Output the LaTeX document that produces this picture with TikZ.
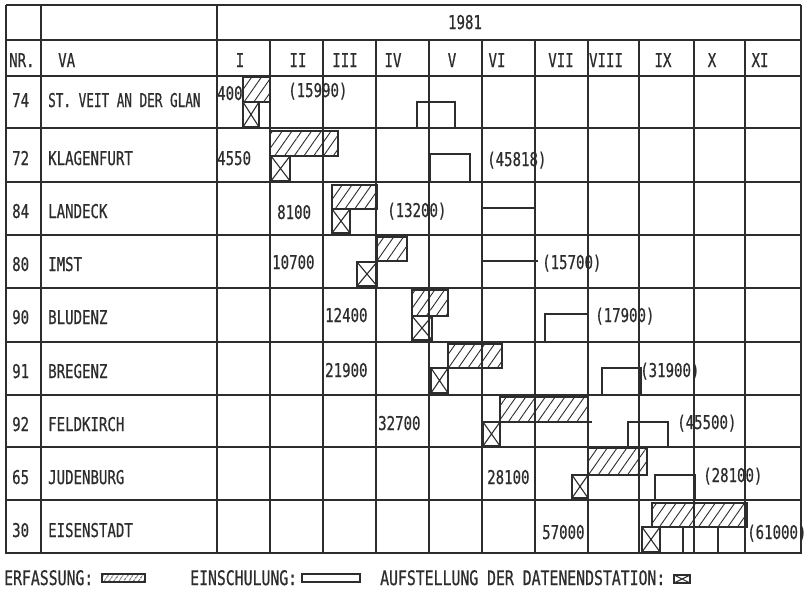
\documentclass[tikz,border=0pt]{standalone}
\usepackage{fontspec}
\setmainfont{DejaVu Sans Mono}[FakeStretch=0.74,FakeBold=0.6]
\usetikzlibrary{patterns.meta}
\definecolor{ink}{RGB}{45,45,45}
\newcommand\xcrossbox[4]{%
  \draw[bar] (#1,#2) rectangle (#3,#4);
  \draw[draw=ink,line width=1.1pt] (#1,#2)--(#3,#4) (#1,#4)--(#3,#2);}
\begin{document}
\begin{tikzpicture}[x=1pt,y=-1pt,
  gridline/.style={draw=ink,line width=2pt},
  colline/.style={draw=ink,line width=1.1pt},
  bar/.style={draw=ink,line width=1.8pt},
  hatchbox/.style={bar,pattern={Lines[angle=55,distance=8pt,line width=0.9pt]},pattern color=ink},
  einsch/.style={draw=ink,line width=1.8pt},
  lbl/.style={text=ink,inner sep=0pt,font=\fontsize{19}{21}\selectfont,anchor=base west},
  hdr/.style={text=ink,inner sep=0pt,font=\fontsize{19}{21}\selectfont,anchor=base},
  leg/.style={text=ink,inner sep=0pt,font=\fontsize{20}{22}\selectfont,anchor=base west}]
\useasboundingbox (0,0) rectangle (807,590);
\fill[white] (0,0) rectangle (807,590);
% ---------- grid ----------
\draw[draw=ink,line width=1.5pt] (6,5) -- (801,5);
\draw[gridline] (6,5) -- (6,553) -- (801,553) -- (801,5);
\draw[gridline] (41,5) -- (41,553);
\draw[gridline] (217,5) -- (217,553);
\foreach \yy in {40,76,128,182,235,288,342,395,447,500}
  \draw[gridline] (6,\yy) -- (801,\yy);
\foreach \xx in {270,323,376,429,482,535,588,639,694,745}
  \draw[colline] (\xx,40) -- (\xx,553);
% ---------- header ----------
\node[hdr] (year) at (465,29) {1981};
\node[lbl] (nr) at (9,67) {NR.};
\node[lbl] (va) at (58,67) {VA};
\foreach \mx/\mt [count=\i] in {240/I,298/II,345/III,393/IV,452/V,497/VI,561/VII,606/VIII,663/IX,712/X,760/XI}
  \node[hdr] (m\i) at (\mx,67) {\mt};
% ---------- row labels ----------
\foreach \ry/\rn/\rt [count=\i] in {107/74/{\scalebox{0.9}[1]{ST. VEIT AN DER GLAN}},165/72/KLAGENFURT,218/84/LANDECK,271/80/IMST,324/90/BLUDENZ,378/91/BREGENZ,431/92/FELDKIRCH,484/65/JUDENBURG,537/30/EISENSTADT}{
  \node[lbl] (nr\i) at (12,\ry) {\rn};
  \node[lbl] (va\i) at (48,\ry) {\rt};
}
% ---------- numbers ----------
\foreach \nx/\ny/\nt [count=\i] in {
  217/100/400, 288/97/(15990),
  217/165/4550, 487/166/(45818),
  277/219/8100, 387/217/(13200),
  272/269/10700, 542/269/(15700),
  325/322/12400, 595/322/(17900),
  325/377/21900, 640/377/(31900),
  378/430/32700, 677/429/(45500),
  487/484/28100, 703/482/(28100),
  542/539/57000, 747/539/(61000)}
  \node[lbl] (n\i) at (\nx,\ny) {\nt};
% ---------- bars ----------
% 74
\draw[hatchbox] (243,77) rectangle (270,102);
\xcrossbox{243}{102}{259}{127}
\draw[einsch] (417,128) -- (417,102) -- (455,102) -- (455,128);
% 72
\draw[hatchbox] (270,131) rectangle (338,156);
\xcrossbox{271}{156}{290}{181}
\draw[einsch] (430,182) -- (430,154) -- (470,154) -- (470,182);
% 84
\draw[hatchbox] (332,185) rectangle (377,209);
\xcrossbox{332}{209}{350}{233}
\draw[einsch] (482,235) -- (482,208) -- (535,208) -- (535,235);
% 80
\draw[hatchbox] (377,237) rectangle (407,261);
\xcrossbox{357}{262}{377}{286}
\draw[einsch] (482,288) -- (482,261) -- (538,261);
\draw[einsch] (535,261) -- (535,288);
% 90
\draw[hatchbox] (412,290) rectangle (448,316);
\xcrossbox{412}{316}{432}{340}
\draw[einsch] (545,342) -- (545,314) -- (588,314) -- (588,342);
% 91
\draw[hatchbox] (448,344) rectangle (502,368);
\xcrossbox{431}{368}{448}{393}
\draw[einsch] (602,395) -- (602,368) -- (641,368) -- (641,395);
% 92
\draw[hatchbox] (500,397) rectangle (588,422);
\draw[bar] (483,422) -- (592,422);
\xcrossbox{483}{422}{500}{446}
\draw[einsch] (628,447) -- (628,422) -- (668,422) -- (668,447);
% 65
\draw[hatchbox] (588,448) rectangle (647,475);
\xcrossbox{572}{475}{588}{498}
\draw[einsch] (655,500) -- (655,475) -- (695,475) -- (695,500);
% 30
\draw[hatchbox] (652,503) rectangle (747,527);
\draw[bar] (642,527) -- (747,527);
\xcrossbox{642}{527}{660}{552}
\draw[einsch] (683,527) -- (683,553);
\draw[einsch] (718,527) -- (718,553);
% ---------- legend ----------
\node[leg] (l1) at (4,585) {ERFASSUNG:};
\draw[bar,pattern={Lines[angle=55,distance=4pt,line width=1pt]},pattern color=ink] (102,574) rectangle (145,582);
\node[leg] (l2) at (190,585) {EINSCHULUNG:};
\draw[bar] (302,574) rectangle (360,582);
\node[leg] (l3) at (380,585) {AUFSTELLUNG DER DATENENDSTATION:};
\xcrossbox{674}{575}{690}{583}
\end{tikzpicture}
\end{document}
